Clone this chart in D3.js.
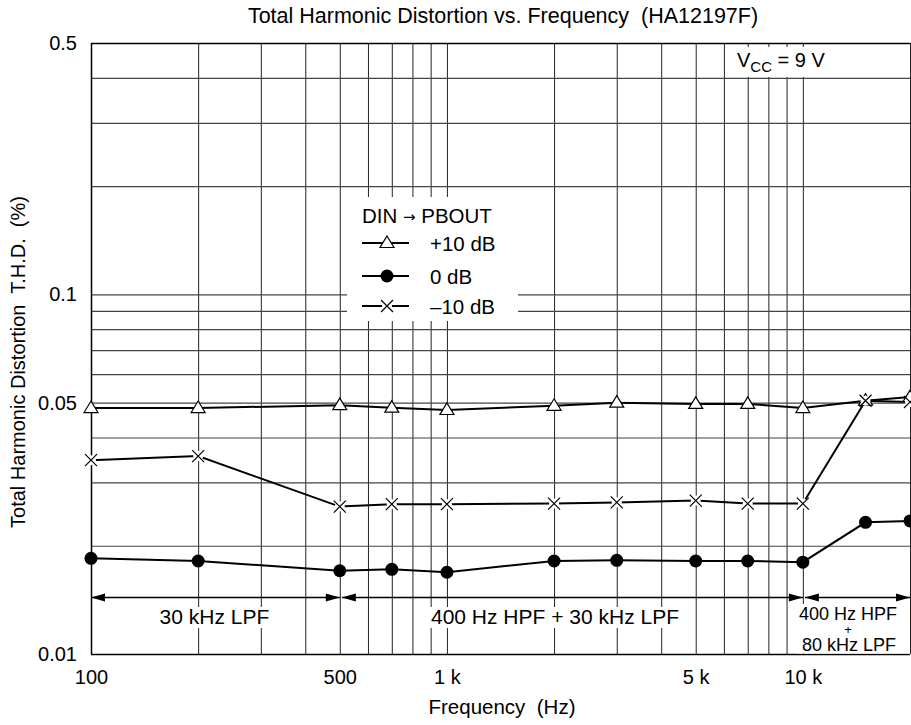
<!DOCTYPE html>
<html><head><meta charset="utf-8">
<script src="https://cdn.jsdelivr.net/npm/d3@7"></script>
<style>
body{margin:0;background:#fff}
text{font-family:"Liberation Sans",Arial,Helvetica,sans-serif;fill:#000;white-space:pre}
</style>
</head><body>
<svg id="c" width="911" height="725" xml:space="preserve"></svg>
<script>
// ---- data ----
const freqs = [100, 200, 500, 700, 1000, 2000, 3000, 5000, 7000, 10000, 15000, 20000];
const thdPlus10 = [0.0483, 0.0483, 0.0492, 0.0484, 0.0477, 0.0490, 0.0500, 0.0496, 0.0496, 0.0483, 0.0506, 0.0518];
const thd0 = [0.01845, 0.01814, 0.01704, 0.01720, 0.01688, 0.01814, 0.01822, 0.01814, 0.01814, 0.01800, 0.02324, 0.02344];
const thdMinus10 = [0.0346, 0.0355, 0.0257, 0.0261, 0.0261, 0.0262, 0.0264, 0.0267, 0.0262, 0.0262, 0.0506, 0.0502];
const seriesNames = ["+10 dB", "0 dB", "\u201310 dB"];
const xTickValues = [100, 500, 1000, 5000, 10000];
const xTickLabels = ["100", "500", "1 k", "5 k", "10 k"];
const yTickValues = [0.01, 0.05, 0.1, 0.5];
const yTickLabels = ["0.01", "0.05", "0.1", "0.5"];
const xGridValues = [100,200,300,400,500,600,700,800,900,1000,2000,3000,4000,5000,6000,7000,8000,9000,10000,20000];
const yGridValues = [0.01,0.02,0.03,0.04,0.05,0.06,0.07,0.08,0.09,0.1,0.2,0.3,0.4,0.5];
const bandEdges = [100, 500, 10000, 20000];
const bandLabels = [["30 kHz LPF"], ["400 Hz HPF + 30 kHz LPF"], ["400 Hz HPF", "+", "80 kHz LPF"]];
const titleText = "Total Harmonic Distortion vs. Frequency  (HA12197F)";
const xTitle = "Frequency  (Hz)";
const yTitle = "Total Harmonic Distortion  T.H.D.  (%)";

// ---- layout ----
const L = 91, R = 910, T = 43, B = 654;
const FONT = '"Liberation Sans",Arial,sans-serif';
const svg = d3.select("#c");
const x = d3.scaleLog().domain([100, 20000]).range([L, R]);
const y = d3.scaleLog().domain([0.01, 0.5]).range([B, T]);

// grid via axes
const gx = svg.append("g").attr("transform", `translate(0,${B})`)
  .call(d3.axisBottom(x).tickValues(xGridValues).tickSize(-(B - T)).tickFormat(""));
gx.select(".domain").remove();
gx.selectAll("line").attr("stroke", "#222").attr("stroke-width", 1);
const gy = svg.append("g").attr("transform", `translate(${L},0)`)
  .call(d3.axisLeft(y).tickValues(yGridValues).tickSize(-(R - L)).tickFormat(""));
gy.select(".domain").remove();
gy.selectAll("line").attr("stroke", "#444").attr("stroke-width", 1.2);

// frame
svg.append("line").attr("x1", L).attr("x2", R).attr("y1", T + 0.5).attr("y2", T + 0.5).attr("stroke", "#000").attr("stroke-width", 1.3);
svg.append("line").attr("x1", L).attr("x2", R).attr("y1", B + 0.5).attr("y2", B + 0.5).attr("stroke", "#000").attr("stroke-width", 1.5);
svg.append("line").attr("x1", L + 0.5).attr("x2", L + 0.5).attr("y1", T).attr("y2", B).attr("stroke", "#000").attr("stroke-width", 1.5);

// tick labels via axes
const ax = svg.append("g").attr("transform", `translate(0,${B})`)
  .call(d3.axisBottom(x).tickValues(xTickValues).tickSize(0).tickPadding(16)
    .tickFormat((d, i) => xTickLabels[i]));
ax.select(".domain").remove();
ax.selectAll("text").attr("font-size", 20).attr("font-family", FONT).attr("fill", "#000");
const ay = svg.append("g").attr("transform", `translate(${L},0)`)
  .call(d3.axisLeft(y).tickValues(yTickValues).tickSize(0).tickPadding(14)
    .tickFormat((d, i) => yTickLabels[i]));
ay.select(".domain").remove();
ay.selectAll("text").attr("font-size", 20).attr("font-family", FONT).attr("fill", "#000");

// titles
svg.append("text").attr("x", 503).attr("y", 23).attr("text-anchor", "middle").attr("font-size", 21.5).text(titleText);
svg.append("text").attr("x", 502).attr("y", 714).attr("text-anchor", "middle").attr("font-size", 20.5).text(xTitle);
svg.append("text").attr("transform", "translate(25,362) rotate(-90)").attr("text-anchor", "middle").attr("font-size", 20).text(yTitle);

// Vcc label box
svg.append("rect").attr("x", 727).attr("y", 47).attr("width", 120).attr("height", 30).attr("fill", "#fff");
const vcc = svg.append("text").attr("x", 737).attr("y", 67).attr("font-size", 20);
vcc.append("tspan").text("V");
vcc.append("tspan").attr("font-size", 15).attr("dy", 5).text("CC");
vcc.append("tspan").attr("dy", -5).text(" = 9 V");

// filter band annotations
const arrowY = 597.5;
function arrowHead(xt, dir) {
  svg.append("path")
    .attr("d", `M${xt},${arrowY} L${xt - dir * 14},${arrowY - 4} L${xt - dir * 14},${arrowY + 4} Z`)
    .attr("fill", "#000");
}
for (let i = 0; i < bandLabels.length; i++) {
  const x0 = x(bandEdges[i]), x1 = x(bandEdges[i + 1]);
  const xa = x0 + (i === 0 ? 0 : 2), xb = x1;
  svg.append("line").attr("x1", xa).attr("x2", xb).attr("y1", arrowY).attr("y2", arrowY).attr("stroke", "#000").attr("stroke-width", 1.3);
  arrowHead(xa, -1);
  arrowHead(xb, 1);
}
function bandText(label, cx, yBase, fs, pad) {
  const g = svg.append("g");
  const rect = g.append("rect").attr("fill", "#fff");
  g.append("text").attr("x", cx).attr("y", yBase).attr("text-anchor", "middle").attr("font-size", fs).text(label);
  const bb = g.node().getBBox();
  rect.attr("x", bb.x - pad).attr("y", bb.y + 2).attr("width", bb.width + 2 * pad).attr("height", bb.height - 2);
}
bandText(bandLabels[0][0], (x(100) + x(500)) / 2 - 1, 624, 21, 3);
bandText(bandLabels[1][0], 555, 624, 21, 3);
{
  const g = svg.append("g");
  g.append("rect").attr("x", 796).attr("y", 604).attr("width", 114).attr("height", 49.5).attr("fill", "#fff");
  g.append("text").attr("x", 848).attr("y", 620).attr("text-anchor", "middle").attr("font-size", 18).text(bandLabels[2][0]);
  g.append("text").attr("x", 848).attr("y", 634).attr("text-anchor", "middle").attr("font-size", 13).text(bandLabels[2][1]);
  g.append("text").attr("x", 849).attr("y", 651).attr("text-anchor", "middle").attr("font-size", 18).text(bandLabels[2][2]);
}

// legend
svg.append("rect").attr("x", 347).attr("y", 197).attr("width", 171).attr("height", 124).attr("fill", "#fff");
const lt = svg.append("text").attr("x", 362).attr("y", 223).attr("font-size", 20.5);
lt.append("tspan").text("DIN ");
lt.append("tspan").attr("font-size", 15).attr("font-family", '"DejaVu Sans",sans-serif').attr("dy", -1).text("\u2192");
lt.append("tspan").attr("dy", 1).text(" PBOUT");
const legendRows = [243, 276, 306];

// series
const series = [
  {name: seriesNames[0], vals: thdPlus10, marker: "tri"},
  {name: seriesNames[1], vals: thd0, marker: "dot"},
  {name: seriesNames[2], vals: thdMinus10, marker: "x"}
];
const line = d3.line().x(d => x(d.f)).y(d => y(d.v));
function drawMarker(g, type, cx, cy) {
  if (type === "tri") {
    g.append("path").attr("d", `M${cx},${cy - 7} L${cx + 7},${cy + 4.5} L${cx - 7},${cy + 4.5} Z`)
      .attr("fill", "#fff").attr("stroke", "#000").attr("stroke-width", 1.2);
  } else if (type === "dot") {
    g.append("circle").attr("cx", cx).attr("cy", cy).attr("r", 6.5).attr("fill", "#000");
  } else {
    g.append("circle").attr("cx", cx).attr("cy", cy).attr("r", 5).attr("fill", "#fff");
    g.append("path").attr("d", `M${cx - 6},${cy - 6} L${cx + 6},${cy + 6} M${cx - 6},${cy + 6} L${cx + 6},${cy - 6}`)
      .attr("stroke", "#000").attr("stroke-width", 1.2).attr("fill", "none");
  }
}
const order = [1, 0, 2];
order.forEach(si => {
  const s = series[si];
  const pts = freqs.map((f, i) => ({f, v: s.vals[i]}));
  svg.append("path").datum(pts).attr("d", line).attr("fill", "none").attr("stroke", "#000").attr("stroke-width", 2);
});
order.forEach(si => {
  const s = series[si];
  const g = svg.append("g");
  freqs.forEach((f, i) => drawMarker(g, s.marker, x(f), y(s.vals[i])));
});
series.forEach((s, i) => {
  const yy = legendRows[i];
  svg.append("line").attr("x1", 362).attr("x2", 409).attr("y1", yy).attr("y2", yy).attr("stroke", "#000").attr("stroke-width", 2);
  const g = svg.append("g");
  drawMarker(g, s.marker, 387, yy);
  svg.append("text").attr("x", 430).attr("y", yy + 8).attr("font-size", 20.5).text(s.name);
});
</script>
</body></html>
